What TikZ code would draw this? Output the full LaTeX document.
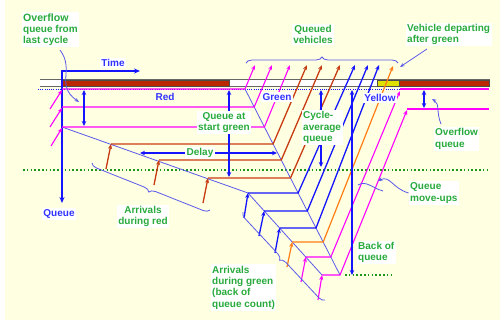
\documentclass[tikz,border=0pt]{standalone}
\usepackage{fontspec}
\setmainfont{Liberation Sans}
\usetikzlibrary{arrows.meta,decorations.pathreplacing}

\definecolor{bgy}{RGB}{255,255,225}
\definecolor{qblue}{RGB}{20,20,255}
\definecolor{wblue}{RGB}{90,90,235}
\definecolor{vpink}{RGB}{255,0,255}
\definecolor{vred}{RGB}{200,60,20}
\definecolor{vorange}{RGB}{255,125,20}
\definecolor{lgreen}{RGB}{40,170,60}
\definecolor{tblue}{RGB}{50,50,255}
\definecolor{sigred}{RGB}{185,40,0}
\definecolor{sigyel}{RGB}{225,225,0}
\definecolor{dotgreen}{RGB}{30,150,30}

\newcommand\labfont{\fontsize{10}{11.3}\selectfont\bfseries}

\tikzset{
  tip/.style={-{Stealth[length=5pt,width=4pt]}},
  pinkt/.style={vpink, line width=1.1pt, tip},
  redt/.style={vred, line width=1.3pt, tip},
  bluet/.style={qblue, line width=1.3pt, tip},
  oranget/.style={vorange, line width=1.2pt, tip},
  thinw/.style={wblue, line width=0.8pt},
  pointer/.style={thinw, -{Stealth[length=4.5pt,width=3.5pt]}},
  dblarrow/.style={qblue, line width=1.5pt, {Stealth[length=5pt,width=4.5pt]}-{Stealth[length=5pt,width=4.5pt]}},
  gdots/.style={dotgreen, line width=1.5pt, dash pattern=on 1.5pt off 2.3pt},
  lab/.style={fill=white, text=lgreen, font=\labfont, inner sep=1.5pt, align=left},
  blab/.style={lab, text=tblue},
  bracebox/.style={thinw, decorate, decoration={brace, amplitude=6pt}}
}

\begin{document}
\begin{tikzpicture}[x=1pt,y=-1pt]
\useasboundingbox (0,0) rectangle (500,322);
\fill[white] (0,0) rectangle (500,322);
\fill[bgy] (5,0) rectangle (500,320);

% reference levels
\draw[gdots] (23,170) -- (487,170);
\draw[gdots] (345,275) -- (393,275);
\draw[qblue, line width=0.8pt, dash pattern=on 1pt off 1.2pt] (38,89) -- (402,89);

% signal timing bar
\fill[white] (40,79) rectangle (490,86.5);
\draw[black!60, line width=0.9pt] (40,79) -- (490,79) (40,86.5) -- (490,86.5);
\filldraw[fill=sigred, draw=black!70, line width=0.5pt] (62,80) rectangle (229,86);
\filldraw[fill=sigyel, draw=black!70, line width=0.5pt] (377,80.5) rectangle (399,86);
\filldraw[fill=sigred, draw=black!70, line width=0.5pt] (399,80) rectangle (489,86);

% time and queue axes
\draw[qblue, line width=1.3pt, {Stealth[length=6pt,width=5pt]}-{Stealth[length=6pt,width=5pt]}]
  (140,71) -- (62,71) -- (62,203);

% arrival and discharge waves
\draw[thinw] (62,127) -- (248,193) -- (322,275);
\draw[thinw] (245,89) -- (340,275);

% overflow vehicles arriving before the cycle
\draw[pinkt] (50,109) -- (62,90);
\draw[pinkt] (50,127) -- (62,108);
\draw[pinkt] (51,146) -- (62,128);

% vehicle trajectories: wait in queue, then discharge
\draw[pinkt] (62,89) -- (245,89) -- (255,65);
\draw[pinkt] (62,107) -- (254.2,107) -- (272,65);
\draw[pinkt] (62,127) -- (264.4,127) -- (290,65);
\draw[redt] (111,144) -- (273.1,144) -- (307,65);
\draw[redt] (159,160) -- (281.3,160) -- (322,65);
\draw[redt] (208,178) -- (290.5,178) -- (340,65);
\draw[bluet] (248,193) -- (298.1,193) -- (355,65);
\draw[bluet] (264.2,211) -- (307.3,211) -- (368,65);
\draw[bluet] (279.6,228) -- (316,228) -- (379,65);
\draw[oranget] (292.2,242) -- (323.2,242) -- (393,66);
\draw[pinkt] (305.8,257) -- (330.8,257) -- (400,91);
\draw[pinkt] (322,275) -- (340,275) -- (407,110);
\draw[vpink, line width=1.1pt] (400,89) -- (489,89);
\draw[vpink, line width=1.1pt] (407,109) -- (489,109);

% arrivals joining the queue
\draw[redt] (106,169) -- (111,144);
\draw[redt] (154,185) -- (159,160);
\draw[redt] (203,203) -- (208,178);
\draw[bluet] (244,218) -- (248,193);
\draw[bluet] (259,236) -- (264.2,211);
\draw[bluet] (275,253) -- (279.6,228);
\draw[oranget] (287,267) -- (292.2,242);
\draw[pinkt] (301,282) -- (305.8,257);
\draw[pinkt] (318,300) -- (322,275);

% measured quantities
\draw[dblarrow] (84,90) -- (84,126);
\draw[dblarrow] (229,90) -- (229,177);
\draw[dblarrow] (321,90) -- (321,167);
\draw[dblarrow] (352,90) -- (352,275);
\draw[dblarrow, line width=1.2pt] (140,153) -- (277,153);
\draw[dblarrow] (424,90) -- (424,108);

% braces
\draw[bracebox] (246,63) -- (398,63);
\draw[bracebox] (210,210) -- (92,163);
\draw[bracebox] (325,300) -- (243,212);

% labels
\node[lab, anchor=west] (ofl) at (21.5,29.5) {\fontsize{10.6}{12.5}\selectfont Overflow\\queue from\\last cycle};
\node[blab] (time) at (113,63) {Time};
\node[blab] (queue) at (59,214) {Queue};
\node[text=tblue, font=\labfont] (red) at (165,97) {Red};
\node[blab] (green) at (277,97) {Green};
\node[blab] (yellow) at (380,98) {Yellow};
\node[lab, align=center] (queued) at (313,34.5) {Queued\\vehicles};
\node[lab, anchor=west] (vdep) at (405.5,34.5) {Vehicle departing\\after green};
\node[lab, align=center] (qsg) at (224,122.5) {Queue at\\start green};
\node[lab, anchor=west] (cav) at (301.5,127.5) {Cycle-\\average\\queue};
\node[lab] (delay) at (200,153) {Delay};
\node[lab, anchor=west] (ofq) at (433.5,139) {Overflow\\queue};
\node[lab, anchor=west] (qmu) at (408.5,193) {Queue\\move-ups};
\node[lab, anchor=west] (boq) at (356.5,252.5) {Back of\\queue};
\node[lab, align=center] (adr) at (143,216.5) {Arrivals\\during red};
\node[lab, anchor=west] (adg) at (210.5,287.5) {Arrivals\\during green\\(back of\\queue count)};

% pointers from labels
\coordinate (oflend) at (79,102);
\coordinate (vdepend) at (400,67);
\coordinate (ofqend) at (432,99);
\coordinate (qmuend) at (378,181);
\draw[pointer] (60,50) .. controls (75,70) and (55,85) .. (oflend);
\draw[pointer] (427,49) -- (vdepend);
\draw[pointer] (441,124) .. controls (436,112) and (440,104) .. (ofqend);
\draw[pointer] (qmu.west) .. controls (392,188) and (390,175) .. (qmuend);
\draw[thinw] (358,185) .. controls (366,180) and (372,188) .. (383,191);
\end{tikzpicture}
\end{document}
